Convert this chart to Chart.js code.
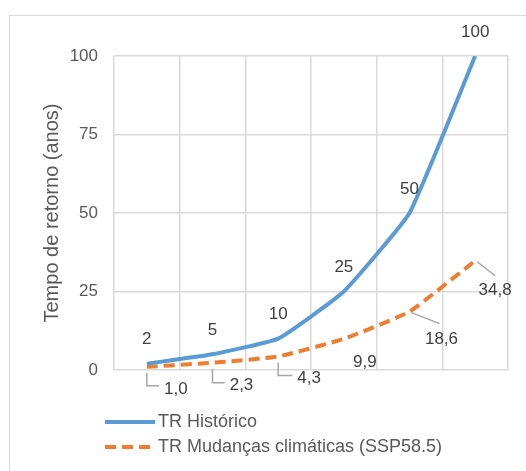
<!DOCTYPE html>
<html>
<head>
<meta charset="utf-8">
<title>Tempo de retorno</title>
<script src="https://cdn.jsdelivr.net/npm/chart.js@4.4.0/dist/chart.umd.min.js"></script>
<style>
  body { margin: 0; background: #fff; font-family: "Liberation Sans", Arial, sans-serif; }
  #wrap { position: relative; width: 526px; height: 471px; overflow: hidden; }
  #frame { position: absolute; left: 9px; top: 15px; width: 600px; height: 600px; border: 1px solid #d9d9d9; }
  canvas { position: absolute; left: 0; top: 0; }
</style>
</head>
<body>
<div id="wrap">
  <div id="frame"></div>
  <canvas id="myChart" width="526" height="471"></canvas>
</div>
<script>
const categories = ['2', '5', '10', '25', '50', '100'];
const historico = [2, 5, 10, 25, 50, 100];
const mudancas = [1.0, 2.3, 4.3, 9.9, 18.6, 34.8];
const yTicks = [0, 25, 50, 75, 100];
const seriesNames = ['TR Histórico', 'TR Mudanças climáticas (SSP58.5)'];

const FONT = '"Liberation Sans", Arial, sans-serif';
const BLUE = '#5b9bd5';
const ORANGE = '#ed7d31';
const TEXT = '#595959';

// where each orange label sits relative to its point, and how its leader line goes
const orangeLabels = [
  { dx: 29, dy: 22, leader: 'L' },
  { dx: 29, dy: 23, leader: 'L' },
  { dx: 31, dy: 22, leader: 'L' },
  { dx: 21, dy: 23, leader: null },
  { dx: 32, dy: 28, leader: 'diag', ex: 30, ey: 12 },
  { dx: 20, dy: 30, leader: 'diag', ex: 20, ey: 15 }
];

const labelPlugin = {
  id: 'labels',
  afterDatasetsDraw(chart) {
    const ctx = chart.ctx;
    ctx.save();
    ctx.font = '17px ' + FONT;
    ctx.fillStyle = '#404040';
    ctx.textAlign = 'center';
    ctx.textBaseline = 'middle';

    chart.getDatasetMeta(0).data.forEach((p, i) => {
      ctx.fillText(String(historico[i]), p.x, p.y - 24);
    });

    ctx.strokeStyle = '#a6a6a6';
    ctx.lineWidth = 1.5;
    chart.getDatasetMeta(1).data.forEach((p, i) => {
      const o = orangeLabels[i];
      const lx = p.x + o.dx, ly = p.y + o.dy;
      const txt = mudancas[i].toFixed(1).replace('.', ',');
      const w = ctx.measureText(txt).width;
      if (o.leader === 'L') {
        ctx.beginPath();
        ctx.moveTo(p.x, p.y + 6);
        ctx.lineTo(p.x, ly - 3);
        ctx.lineTo(lx - w / 2 - 5, ly - 3);
        ctx.stroke();
      } else if (o.leader === 'diag') {
        ctx.beginPath();
        ctx.moveTo(p.x + 2, p.y + 1);
        ctx.lineTo(p.x + o.ex, p.y + o.ey);
        ctx.stroke();
      }
      ctx.fillText(txt, lx, ly);
    });
    ctx.restore();
  },
  afterDraw(chart) {
    const ctx = chart.ctx;
    ctx.save();
    const rows = [422, 447];
    [BLUE, ORANGE].forEach((c, i) => {
      ctx.beginPath();
      ctx.strokeStyle = c;
      ctx.lineWidth = 4;
      ctx.setLineDash(i === 1 ? [11, 6] : []);
      ctx.moveTo(105, rows[i]);
      ctx.lineTo(155, rows[i]);
      ctx.stroke();
      ctx.setLineDash([]);
      ctx.font = '18px ' + FONT;
      ctx.fillStyle = TEXT;
      ctx.textAlign = 'left';
      ctx.textBaseline = 'middle';
      ctx.fillText(seriesNames[i], 158, rows[i]);
    });
    ctx.restore();
  }
};

new Chart(document.getElementById('myChart'), {
  type: 'line',
  data: {
    labels: categories,
    datasets: [
      {
        label: seriesNames[0],
        data: historico,
        borderColor: BLUE,
        borderWidth: 4,
        pointRadius: 0,
        tension: 0.12,
        fill: false
      },
      {
        label: seriesNames[1],
        data: mudancas,
        borderColor: ORANGE,
        borderWidth: 4,
        borderDash: [11, 6],
        pointRadius: 0,
        tension: 0.12,
        fill: false
      }
    ]
  },
  options: {
    responsive: false,
    animation: false,
    devicePixelRatio: 1,
    layout: { padding: { left: 36, top: 56, right: 18, bottom: 101 } },
    plugins: {
      legend: { display: false },
      tooltip: { enabled: false }
    },
    scales: {
      x: {
        offset: true,
        grid: { offset: true, color: '#d9d9d9', lineWidth: 1.5, drawTicks: false },
        border: { display: false },
        ticks: { display: false },
        afterFit: s => { s.height = 0; }
      },
      y: {
        min: 0,
        max: 100,
        afterBuildTicks: s => { s.ticks = yTicks.map(v => ({ value: v })); },
        grid: { color: '#d9d9d9', lineWidth: 1.5, drawTicks: false },
        border: { display: false },
        ticks: { padding: 16, color: TEXT, font: { family: FONT, size: 17 } },
        title: {
          display: true,
          text: 'Tempo de retorno (anos)',
          color: TEXT,
          font: { family: FONT, size: 20 }
        },
        afterFit: s => { s.width = 78; }
      }
    }
  },
  plugins: [labelPlugin]
});
</script>
</body>
</html>
